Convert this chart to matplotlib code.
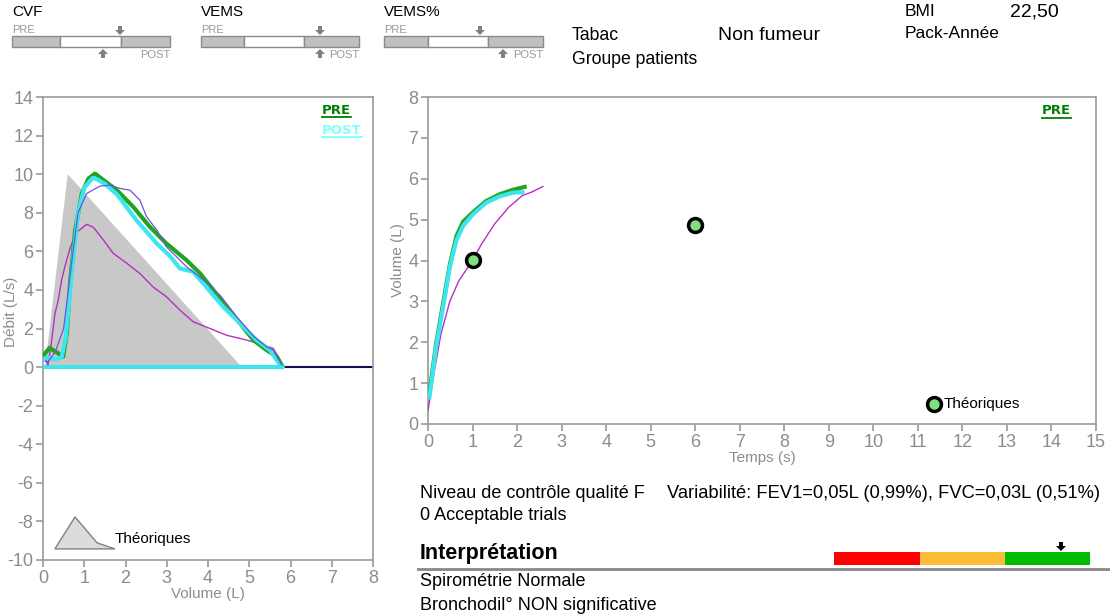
import numpy as np
import matplotlib
matplotlib.use("Agg")
import matplotlib.pyplot as plt
from matplotlib.patches import Polygon, Rectangle

plt.rcParams['font.family'] = ['Liberation Sans', 'DejaVu Sans']
plt.rcParams['axes.unicode_minus'] = False

# ---- data: debit / volume loop (L, L/s)
pred_vol = [0.05, 0.6, 4.82]
pred_flow = [0.0, 10.0, 0.0]

pre_vol = [0.0, 0.05, 0.16, 0.3, 0.37, 0.49, 0.58, 0.66, 0.78, 0.94, 1.10, 1.26, 1.46,
           1.79, 2.19, 2.59, 2.99, 3.48, 3.81, 4.13, 4.45, 4.78, 5.10, 5.42, 5.67, 5.80]
pre_flow = [0.6, 0.71, 1.0, 0.8, 0.71, 0.54, 1.75, 4.5, 7.1, 9.0, 9.77, 10.03, 9.7,
            9.17, 8.3, 7.27, 6.41, 5.54, 4.85, 3.99, 3.12, 2.26, 1.40, 0.88, 0.54, 0.05]

post_vol = [0.0, 0.1, 0.3, 0.45, 0.55, 0.7, 0.85, 1.0, 1.2, 1.3, 1.5, 1.79, 2.27, 2.76,
            3.1, 3.32, 3.64, 3.96, 4.37, 4.78, 5.18, 5.5, 5.75, 5.8]
post_flow = [0.4, 0.5, 0.4, 0.5, 1.5, 5.0, 8.0, 9.3, 9.8, 9.75, 9.5, 8.96, 7.6, 6.4,
             5.7, 5.11, 4.94, 4.15, 3.12, 2.26, 1.40, 0.88, 0.1, 0.0]
post_base_vol = [0.0, 5.8]
post_base_flow = [0.0, 0.0]

low_vol = [0.05, 0.12, 0.2, 0.29, 0.37, 0.45, 0.53, 0.66, 0.82, 1.06, 1.22, 1.46, 1.70,
           2.02, 2.35, 2.67, 2.99, 3.32, 3.64, 4.05, 4.45, 4.94, 5.34, 5.58, 5.70, 5.79]
low_flow = [0.5, 0.11, 1.2, 2.78, 3.47, 4.5, 5.2, 6.2, 7.0, 7.4, 7.25, 6.6, 5.9,
            5.4, 4.85, 4.15, 3.65, 2.95, 2.35, 2.0, 1.65, 1.4, 1.14, 0.97, 0.54, 0.1]

mid_vol = [0.05, 0.12, 0.3, 0.5, 0.7, 0.85, 1.06, 1.38, 1.62, 1.87, 2.11, 2.35, 2.51,
           2.76, 2.99, 3.48, 3.9, 4.3, 4.7, 5.1, 5.42, 5.58, 5.79]
mid_flow = [0.3, 0.27, 0.8, 2.0, 5.5, 8.0, 9.0, 9.38, 9.43, 9.26, 9.17, 8.65, 7.8,
            7.1, 6.24, 5.2, 4.5, 3.7, 2.6, 1.6, 1.05, 0.88, 0.1]

# ---- data: volume / temps (s, L)
pre_t = [0.03, 0.1, 0.18, 0.34, 0.49, 0.64, 0.79, 1.0, 1.3, 1.61, 1.91, 2.17]
pre_v = [0.75, 1.3, 1.95, 2.95, 3.9, 4.6, 4.95, 5.17, 5.45, 5.62, 5.73, 5.8]
post_t = [0.03, 0.1, 0.18, 0.34, 0.49, 0.64, 0.79, 1.0, 1.3, 1.61, 1.91, 2.12]
post_v = [0.65, 1.2, 1.88, 2.86, 3.84, 4.5, 4.85, 5.12, 5.41, 5.57, 5.66, 5.67]
low_t = [0.0, 0.13, 0.29, 0.49, 0.69, 1.0, 1.2, 1.5, 1.81, 2.12, 2.32, 2.58]
low_v = [0.33, 1.22, 2.2, 3.0, 3.5, 4.0, 4.4, 4.9, 5.3, 5.59, 5.67, 5.81]
theo_t = [1, 6]
theo_v = [4.02, 4.87]

header_items = ["CVF", "VEMS", "VEMS%"]
qc_text = "Niveau de contrôle qualité F"
var_text = "Variabilité: FEV1=0,05L (0,99%), FVC=0,03L (0,51%)"
trials_text = "0 Acceptable trials"
interp_lines = ["Spirométrie Normale", "Bronchodil° NON significative"]

GREEN = '#22a322'
CYAN = '#3de6ee'
MAGENTA = '#b52fc4'
VIOLET = '#6f55d6'
AXC = '#9a9a9a'
TXC = '#8c8c8c'

fig = plt.figure(figsize=(11.1, 6.16), dpi=100)
W, H = 1110, 616


def box(l, t, r, b):
    return [l / W, 1 - b / H, (r - l) / W, (b - t) / H]


def style(ax):
    for s in ax.spines.values():
        s.set_color(AXC)
        s.set_linewidth(1.2)
    ax.tick_params(colors=AXC, labelcolor=TXC, labelsize=13, length=5, width=1.2, pad=2)


# ---- left: flow/volume
ax1 = fig.add_axes(box(43, 97, 373, 560))
style(ax1)
ax1.fill(pred_vol, pred_flow, color='#c8c8c8', lw=0, zorder=1)
ax1.axhline(0, color='#101050', lw=1.5, zorder=2)
ax1.plot(post_base_vol, post_base_flow, color=CYAN, lw=3, zorder=3)
ax1.plot(low_vol, low_flow, color=MAGENTA, lw=1, zorder=4)
ax1.plot(pre_vol, pre_flow, color=GREEN, lw=3, zorder=5)
ax1.plot(post_vol, post_flow, color=CYAN, lw=3, zorder=6)
ax1.plot(mid_vol, mid_flow, color=VIOLET, lw=0.9, zorder=7)
ax1.set_xlim(0, 8)
ax1.set_ylim(-10, 14)
ax1.set_xticks(range(0, 9))
ax1.set_yticks(range(-10, 15, 2))
ax1.set_xlabel("Volume (L)", color=TXC, fontsize=11, labelpad=0)
ax1.set_ylabel("Débit (L/s)", color=TXC, fontsize=11)
ax1.yaxis.set_label_coords(-0.075, 0.535)
icon = Polygon([(0.036, 0.024), (0.097, 0.093), (0.164, 0.037), (0.218, 0.024)],
               closed=True, facecolor='#dcdcdc', edgecolor='#808080', lw=1,
               transform=ax1.transAxes, zorder=8)
ax1.add_patch(icon)
ax1.text(0.218, 0.045, "Théoriques", transform=ax1.transAxes, fontsize=11, va='center')

# ---- right: volume/time
ax2 = fig.add_axes(box(428, 97, 1096, 424))
style(ax2)
ax2.plot(low_t, low_v, color=MAGENTA, lw=1, zorder=3)
ax2.plot(pre_t, pre_v, color=GREEN, lw=3, zorder=4)
ax2.plot(post_t, post_v, color=CYAN, lw=3, zorder=5)
ax2.plot(theo_t, theo_v, 'o', ms=10, mfc='#80e080', mec='black', mew=2.5, zorder=6)
ax2.set_xlim(0, 15)
ax2.set_ylim(0, 8)
ax2.set_xticks(range(0, 16))
ax2.set_yticks(range(0, 9))
ax2.set_xlabel("Temps (s)", color=TXC, fontsize=11, labelpad=0)
ax2.set_ylabel("Volume (L)", color=TXC, fontsize=11, labelpad=2)
ax2.plot([0.757], [0.0625], 'o', ms=10, mfc='#80e080', mec='black', mew=2.5,
         transform=ax2.transAxes, clip_on=False, zorder=6)
ax2.text(0.772, 0.0625, "Théoriques", transform=ax2.transAxes, fontsize=11,
         va='center')

# ---- overlay in pixel coordinates
ax0 = fig.add_axes([0, 0, 1, 1], zorder=5)
ax0.set_xlim(0, W)
ax0.set_ylim(H, 0)
ax0.axis('off')


def block_arrow(x, tip, down, color):
    s = 1 if down else -1
    pts = [(x - 2, tip - s * 9), (x + 2, tip - s * 9), (x + 2, tip - s * 5),
           (x + 5, tip - s * 5), (x, tip), (x - 5, tip - s * 5), (x - 2, tip - s * 5)]
    ax0.add_patch(Polygon(pts, closed=True, facecolor=color, edgecolor='none'))


def underlined(x, y, s, color, size=9.5):
    t = ax0.text(x, y, s, color=color, fontsize=size, fontweight='bold',
                 va='center', ha='left', family='DejaVu Sans')
    fig.canvas.draw()
    bb = t.get_window_extent()
    ax0.plot([bb.x0, bb.x1], [y + 7, y + 7], color=color, lw=1.3)


# header bars: (left, split1, split2, right, down arrow x, up arrow x)
bars = [(12, 60, 121, 170, 120, 103), (201, 244, 304, 359, 320, 320),
        (384, 428, 488, 543, 480, 503)]
for name, (l, s1, s2, r, dx, ux) in zip(header_items, bars):
    ax0.text(l, 12, name, fontsize=11, va='center')
    ax0.text(l, 30, "PRE", fontsize=8, color='#999999', va='center')
    ax0.text(r, 55, "POST", fontsize=8, color='#999999', va='center', ha='right')
    ax0.add_patch(Rectangle((l, 36), s1 - l, 11, facecolor='#c0c0c0', edgecolor='#8a8a8a', lw=1))
    ax0.add_patch(Rectangle((s1, 36), s2 - s1, 11, facecolor='white', edgecolor='#8a8a8a', lw=1))
    ax0.add_patch(Rectangle((s2, 36), r - s2, 11, facecolor='#c0c0c0', edgecolor='#8a8a8a', lw=1))
    block_arrow(dx, 35, True, '#808080')
    block_arrow(ux, 49, False, '#808080')

ax0.text(572, 35, "Tabac", fontsize=12.7, va='center')
ax0.text(718, 36, "Non fumeur", fontsize=14, va='center')
ax0.text(572, 60, "Groupe patients", fontsize=12.7, va='center')
ax0.text(905, 11, "BMI", fontsize=12.5, va='center')
ax0.text(1010, 12, "22,50", fontsize=14, va='center')
ax0.text(905, 34, "Pack-Année", fontsize=12.5, va='center')

underlined(322, 110, "PRE", '#008000')
underlined(322, 130, "POST", '#80ffff')
underlined(1042, 111, "PRE", '#008000')

ax0.text(420, 493, qc_text, fontsize=13, va='center')
ax0.text(667, 493, var_text, fontsize=13.2, va='center')
ax0.text(420, 516, trials_text, fontsize=13, va='center')
ax0.text(420, 553, "Interprétation", fontsize=15.5, fontweight='bold', va='center')
ax0.plot([418, 1110], [569, 569], color='#888888', lw=2)
for l, r, c in [(834, 920, '#ff0000'), (920, 1005, '#fbbd37'), (1005, 1090, '#00bb00')]:
    ax0.add_patch(Rectangle((l, 552), r - l, 13, facecolor=c, edgecolor='none'))
block_arrow(1061, 551, True, 'black')
for i, line in enumerate(interp_lines):
    ax0.text(420, 582 + 23 * i, line, fontsize=13, va='center')

fig.savefig("out.png", dpi=100)
